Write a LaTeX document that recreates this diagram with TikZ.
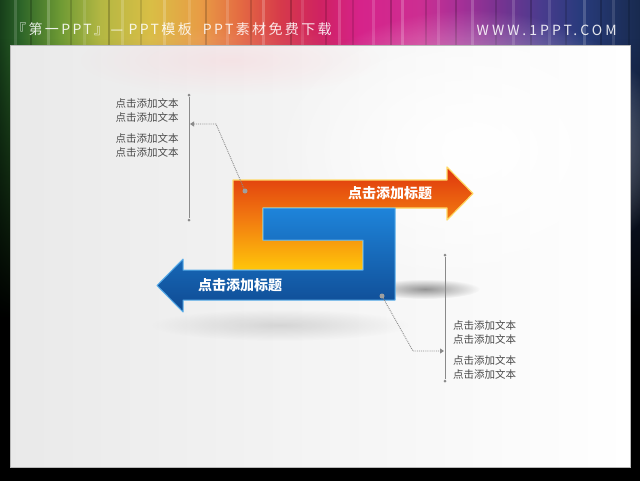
\documentclass[tikz,border=0pt]{standalone}
\usepackage{fontspec}
\newfontfamily\cjk{Noto Sans CJK SC}
\newfontfamily\hdrfont[LetterSpace=22]{Noto Sans CJK SC}
\newfontfamily\hdrcjk[LetterSpace=17]{Noto Sans CJK SC}
\usetikzlibrary{arrows.meta,fadings}
\tikzfading[name=fadedown, top color=transparent!100, bottom color=transparent!0]
\tikzfading[name=softblob, inner color=transparent!0, outer color=transparent!100]
\definecolor{c0}{HTML}{173F1A}
\definecolor{c1}{HTML}{2C6428}
\definecolor{c2}{HTML}{6E9A34}
\definecolor{c3}{HTML}{B3B743}
\definecolor{c4}{HTML}{D9BE45}
\definecolor{c5}{HTML}{E89C45}
\definecolor{c6}{HTML}{E46A42}
\definecolor{c7}{HTML}{D63A4A}
\definecolor{c8}{HTML}{CF2262}
\definecolor{c9}{HTML}{D6238A}
\definecolor{c10}{HTML}{CC2E92}
\definecolor{c11}{HTML}{A53097}
\definecolor{c12}{HTML}{763391}
\definecolor{c13}{HTML}{4A3B8E}
\definecolor{c14}{HTML}{283B7C}
\definecolor{c15}{HTML}{182A4E}
\definecolor{oTop}{HTML}{DE340E}
\definecolor{oMid}{HTML}{F27A10}
\definecolor{oBot}{HTML}{FFC60A}
\definecolor{oRim}{HTML}{FFD966}
\definecolor{bTop}{HTML}{1E84DA}
\definecolor{bBot}{HTML}{0F4A92}
\definecolor{bRim}{HTML}{5AAEEA}
\definecolor{linegray}{HTML}{8A8A8A}
\definecolor{textgray}{HTML}{4A4A4A}
\tikzset{
  sidetext/.style={font=\cjk\fontsize{10.5}{14}\selectfont, text=textgray, align=center, inner sep=0pt},
  titletext/.style={font=\cjk\bfseries\fontsize{14}{16}\selectfont, text=white},
  enddot/.style={circle, fill=linegray, inner sep=0pt, minimum size=3pt},
  pindot/.style={circle, fill=gray!75, inner sep=0pt, minimum size=5pt},
  leader/.style={densely dotted, linegray, line width=0.9pt, -{Triangle[length=4pt,width=5pt]}},
  vline/.style={linegray, line width=0.8pt},
  hdr/.style={text=white, opacity=0.88, inner sep=0pt}
}
\begin{document}
\begin{tikzpicture}[x=1pt,y=-1pt]
\useasboundingbox (0,0) rectangle (640,480);
% rainbow background
\foreach \a/\b/\ca/\cb in {0/20/c0/c1,20/60/c1/c2,60/100/c2/c3,100/150/c3/c4,150/200/c4/c5,200/240/c5/c6,240/280/c6/c7,280/320/c7/c8,320/360/c8/c9,360/420/c9/c10,420/460/c10/c11,460/500/c11/c12,500/540/c12/c13,540/580/c13/c14,580/640/c14/c15}
  \fill[left color=\ca, right color=\cb] (\a,0) rectangle (\b+0.5,480);
\foreach \x/\o in {14/0.15,47/0.2,83/0.12,121/0.18,163/0.2,188/0.12,226/0.15,262/0.2,301/0.12,338/0.18,372/0.15,401/0.2,437/0.12,471/0.18,512/0.15,548/0.12,583/0.18,612/0.12}
  \fill[white, opacity=\o] (\x,0) rectangle (\x+2.5,60);
\foreach \x/\o in {30/0.2,70/0.15,108/0.2,140/0.12,205/0.18,250/0.15,290/0.2,325/0.15,352/0.12,390/0.2,425/0.15,455/0.18,495/0.15,530/0.2,565/0.15,600/0.2,628/0.15}
  \fill[black, opacity=\o] (\x,0) rectangle (\x+2,60);
\fill[black, path fading=fadedown] (0,38) rectangle (640,320);
\fill[black] (0,319) rectangle (640,490);
% header
\node[hdr, anchor=west, font=\hdrcjk\fontsize{14}{16}\selectfont] (hdrl) at (12,29) {『第一PPT』— PPT模板 \ PPT素材免费下载};
\node[hdr, anchor=east, font=\hdrfont\fontsize{14}{16}\selectfont] (hdrr) at (617,30) {WWW.1PPT.COM};
% panel
\fill[left color=gray!17, right color=white] (10,45) rectangle (630,467);
\fill[white, path fading=softblob] (470,150) ellipse (200 and 140);
\fill[orange!60!magenta!40, opacity=0.25, path fading=softblob] (230,60) ellipse (150 and 35);
\draw[gray!55, line width=0.7pt] (10,45) rectangle (630,467);
% shadows
\fill[black, opacity=0.4, path fading=softblob] (425,289) ellipse (55 and 10);
\fill[black, opacity=0.12, path fading=softblob] (280,325) ellipse (130 and 16);
% orange hook arrow
\path[top color=oTop, bottom color=oBot, middle color=oMid, draw=oRim, line width=1.2pt, line join=round]
  (233,180) -- (447,180) -- (447,167) -- (473,193.5) -- (447,220) -- (447,208) -- (263,208)
  -- (263,240) -- (363,240) -- (363,270) -- (233,270) -- cycle;
% blue hook arrow
\path[top color=bTop, bottom color=bBot, draw=bRim, line width=1pt, line join=round]
  (263,208) -- (395,208) -- (395,300) -- (183,300) -- (183,312) -- (157,285.5) -- (183,259)
  -- (183,270) -- (363,270) -- (363,240) -- (263,240) -- cycle;
\node[titletext] (t1) at (390,193) {点击添加标题};
\node[titletext] (t2) at (240,285) {点击添加标题};
% left callout
\node[pindot] (p1) at (245,191) {};
\node[enddot] (v1a) at (189,95) {};
\node[enddot] (v1b) at (189,220) {};
\draw[vline] (v1a) -- (v1b);
\coordinate (k1) at (216,124);
\coordinate (h1) at (190,124);
\draw[leader] (p1) -- (k1) -- (h1);
\node[sidetext] (l1) at (147,110) {点击添加文本\\点击添加文本};
\node[sidetext] (l2) at (147,145) {点击添加文本\\点击添加文本};
% right callout
\node[pindot] (p2) at (382,296) {};
\node[enddot] (v2a) at (445,255) {};
\node[enddot] (v2b) at (445,381) {};
\draw[vline] (v2a) -- (v2b);
\coordinate (k2) at (413,351);
\coordinate (h2) at (444,351);
\draw[leader] (p2) -- (k2) -- (h2);
\node[sidetext] (r1) at (484.5,332.5) {点击添加文本\\点击添加文本};
\node[sidetext] (r2) at (484.5,367) {点击添加文本\\点击添加文本};
\end{tikzpicture}
\end{document}
